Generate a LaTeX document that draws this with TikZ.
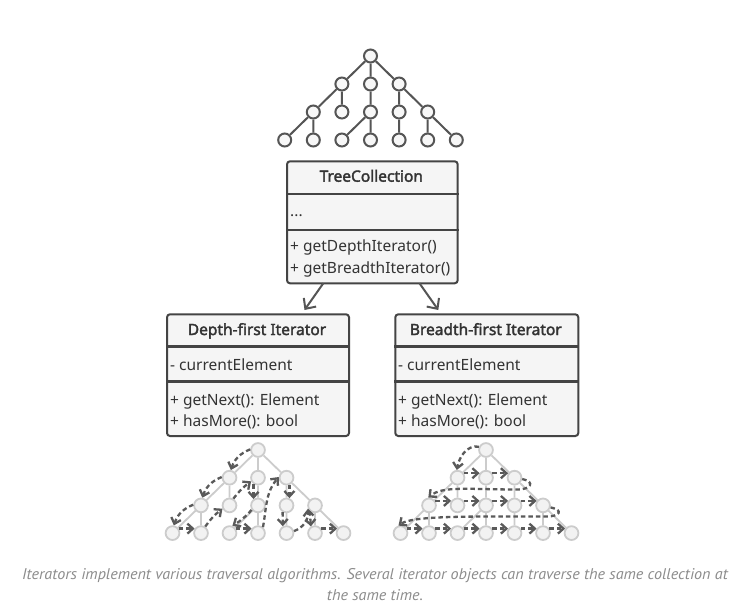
\documentclass[tikz,border=0pt]{standalone}
\usepackage{fontspec}
\setmainfont{Noto Sans}
\newfontfamily\hdrfont[FakeBold=2.2]{Noto Sans}
\newfontfamily\capfont[FakeStretch=1.04]{PT Sans}
\usetikzlibrary{arrows.meta,calc}
\definecolor{boxline}{HTML}{444444}
\definecolor{boxfill}{HTML}{F5F5F5}
\definecolor{txt}{HTML}{333333}
\definecolor{treeline}{HTML}{555555}
\definecolor{treefill}{HTML}{F7F7F7}
\definecolor{gline}{HTML}{CCCCCC}
\definecolor{gfill}{HTML}{F2F2F2}
\definecolor{dashc}{HTML}{5A5A5A}
\definecolor{capc}{HTML}{8C8C8C}
\newcommand\mkTree[7]{%
  \node[#6] (#10) at (#2,-#3) {};
  \node[#6] (#11a) at ({#2-#4},{-#3-#5}) {};
  \node[#6] (#11b) at ({#2},{-#3-#5}) {};
  \node[#6] (#11c) at ({#2+#4},{-#3-#5}) {};
  \node[#6] (#12a) at ({#2-2*#4},{-#3-2*#5}) {};
  \node[#6] (#12b) at ({#2-#4},{-#3-2*#5}) {};
  \node[#6] (#12c) at ({#2},{-#3-2*#5}) {};
  \node[#6] (#12d) at ({#2+#4},{-#3-2*#5}) {};
  \node[#6] (#12e) at ({#2+2*#4},{-#3-2*#5}) {};
  \node[#6] (#13a) at ({#2-3*#4},{-#3-3*#5}) {};
  \node[#6] (#13b) at ({#2-2*#4},{-#3-3*#5}) {};
  \node[#6] (#13c) at ({#2-#4},{-#3-3*#5}) {};
  \node[#6] (#13d) at ({#2},{-#3-3*#5}) {};
  \node[#6] (#13e) at ({#2+#4},{-#3-3*#5}) {};
  \node[#6] (#13f) at ({#2+2*#4},{-#3-3*#5}) {};
  \node[#6] (#13g) at ({#2+3*#4},{-#3-3*#5}) {};
  \draw[#7] (#10)--(#11a) (#10)--(#11b) (#10)--(#11c)
    (#11a)--(#12a) (#11a)--(#12b) (#11b)--(#12c) (#11c)--(#12d) (#11c)--(#12e)
    (#12a)--(#13a) (#12a)--(#13b) (#12c)--(#13c) (#12c)--(#13d) (#12d)--(#13e)
    (#12e)--(#13f) (#12e)--(#13g);
}
\begin{document}
\begin{tikzpicture}[x=1pt,y=1pt,
  tnode/.style={circle,draw=treeline,fill=treefill,line width=2pt,minimum size=13pt,inner sep=0pt},
  tedge/.style={draw=treeline,line width=2pt},
  gnode/.style={circle,draw=gline,fill=gfill,line width=1.8pt,minimum size=13.8pt,inner sep=0pt},
  gedge/.style={draw=gline,line width=1.8pt},
  box/.style={draw=boxline,fill=boxfill,line width=2pt,rounded corners=3pt,inner sep=0pt,anchor=north west},
  divline/.style={draw=boxline,line width=2.2pt},
  hdr/.style={font=\hdrfont\fontsize{15.5}{18}\selectfont,text=txt,anchor=base,inner sep=0pt},
  mem/.style={font=\fontsize{15.5}{18}\selectfont,text=txt,anchor=base west,inner sep=0pt},
  uarr/.style={draw=treeline,line width=2pt,-{Straight Barb[length=8pt,width=15pt]}},
  dsh/.style={draw=dashc,line width=2.3pt,dash pattern=on 4.5pt off 3pt,-{Straight Barb[length=5.5pt,width=10pt]}},
  captxt/.style={font=\capfont\itshape\fontsize{15.5}{21}\selectfont,text=capc,anchor=base,inner sep=0pt}
]
\fill[white] (0,0) rectangle (750,-613);
\useasboundingbox (0,0) rectangle (750,-613);

% trees
\mkTree{t}{370.5}{56}{28.6}{28}{tnode}{tedge}
\mkTree{l}{258}{450}{28.5}{27.7}{gnode}{gedge}
\mkTree{r}{486}{450}{28.5}{27.7}{gnode}{gedge}

% TreeCollection
\node[box,minimum width=170.7pt,minimum height=122pt] (tc) at (286,-160.3) {};
\draw[divline] (tc.west |- 0,-194) -- (tc.east |- 0,-194);
\draw[divline] (tc.west |- 0,-230) -- (tc.east |- 0,-230);
\node[hdr] (tch) at (371.3,-181.7) {TreeCollection};
\node[mem] (tcf) at (290,-216.7) {...};
\node[mem] (tcm1) at (290,-251.7) {+ getDepthIterator()};
\node[mem] (tcm2) at (290,-273.3) {+ getBreadthIterator()};

% Depth-first
\node[box,minimum width=182pt,minimum height=121.7pt] (dfi) at (166,-313.3) {};
\draw[divline] (dfi.west |- 0,-346.5) -- (dfi.east |- 0,-346.5);
\draw[divline] (dfi.west |- 0,-381.5) -- (dfi.east |- 0,-381.5);
\node[hdr] (dfh) at (257,-335) {Depth-first Iterator};
\node[mem] (dff) at (170,-370) {- currentElement};
\node[mem] (dfm1) at (170,-405) {+ getNext(): Element};
\node[mem] (dfm2) at (170,-426.7) {+ hasMore(): bool};

% Breadth-first
\node[box,minimum width=183pt,minimum height=121.7pt] (bfi) at (394.3,-313.3) {};
\draw[divline] (bfi.west |- 0,-346.5) -- (bfi.east |- 0,-346.5);
\draw[divline] (bfi.west |- 0,-381.5) -- (bfi.east |- 0,-381.5);
\node[hdr] (bfh) at (485.8,-335) {Breadth-first Iterator};
\node[mem] (bff) at (398,-370) {- currentElement};
\node[mem] (bfm1) at (398,-405) {+ getNext(): Element};
\node[mem] (bfm2) at (398,-426.7) {+ hasMore(): bool};

% association arrows
\coordinate (a1s) at (323.3,-283.3);
\coordinate (a1e) at (304.5,-310);
\coordinate (a2s) at (419.5,-283.3);
\coordinate (a2e) at (438.3,-310);
\draw[uarr] (a1s) -- (a1e);
\draw[uarr] (a2s) -- (a2e);

% depth-first traversal
\draw[dsh] (l0.175) to[bend right=25] (l1a.80);
\draw[dsh] (l1a.175) to[bend right=25] (l2a.80);
\draw[dsh] (l2a.175) to[bend right=25] (l3a.80);
\draw[dsh] (l3a.35) -- (l3b.145);
\draw[dsh] (l3b.57) to[bend left=8] (l2b.205);
\draw[dsh] (l2b.60) to[bend left=8] (l1b.208);
\draw[dsh] (l1b.235) -- (l2c.125);
\draw[dsh] (l2c.215) to[bend left=8] (l3c.68);
\draw[dsh] (l3c.35) -- (l3d.145);
\draw[dsh] (l3d.50) to[out=80,in=230] (l1c.175);
\draw[dsh] (l1c.-68) -- (l2d.68);
\draw[dsh] (l2d.240) -- (l3e.118);
\draw[dsh] (l3e.15) to[out=20,in=-85] (l2e.205);
\draw[dsh] (l2e.228) -- (l3f.122);
\draw[dsh] (l3f.35) -- (l3g.145);

% breadth-first traversal
\draw[dsh] (r0.155) to[out=170,in=80] (r1a.95);
\foreach \a/\b in {1a/1b,1b/1c,2a/2b,2b/2c,2c/2d,2d/2e,3a/3b,3b/3c,3c/3d,3d/3e,3e/3f,3f/3g}
  \draw[dsh] (r\a.35) -- (r\b.145);
\draw[dsh] (r1c.-10) .. controls +(14,-3) and +(12,0) .. (518,-489.5)
   .. controls +(-50,0) and +(14,12) .. (r2a.95);
\draw[dsh] (r2e.-15) .. controls +(14,-3) and +(12,0) .. (547,-516.5)
   .. controls +(-80,0) and +(14,10) .. (r3a.105);

% caption
\node[captxt] (cap1) at (375,-579) {Iterators implement various traversal algorithms. Several iterator objects can traverse the same collection at};
\node[captxt] (cap2) at (375,-600) {the same time.};
\end{tikzpicture}
\end{document}
